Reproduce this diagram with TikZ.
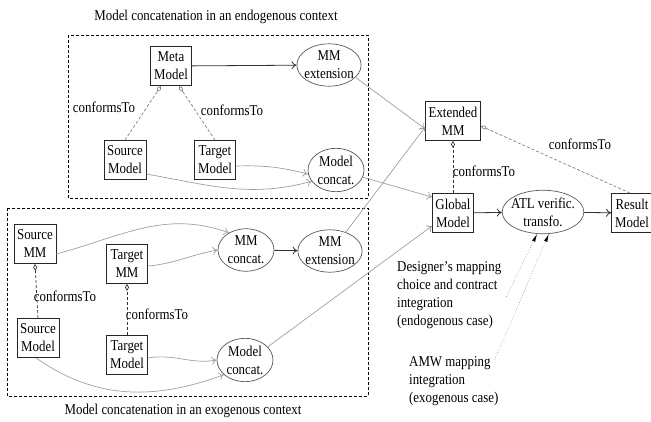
\documentclass[tikz,border=0pt]{standalone}
\usepackage{fontspec}
\setmainfont{Liberation Serif}[FakeStretch=0.86]
\usetikzlibrary{shapes.geometric,arrows.meta}

\begin{document}
\begin{tikzpicture}[x=1pt, y=-1pt,
  every node/.style={font=\fontsize{15}{18}\selectfont},
  box/.style={draw=black!85, line width=0.8pt, align=center, minimum width=41pt, minimum height=39pt, inner sep=3pt},
  ell/.style={ellipse, draw=gray!70!black, line width=0.7pt, align=center, inner xsep=-2pt, inner ysep=1pt},
  concat/.style={ell, minimum width=56pt, minimum height=42pt},
  frame/.style={line width=0.8pt, dash pattern=on 3pt off 2pt},
  link/.style={draw=gray!75, line width=0.7pt, -{To[length=5pt,width=8pt]}},
  blink/.style={draw=black!80, line width=0.8pt, -{To[length=5pt,width=8pt]}},
  conf/.style={dash pattern=on 3pt off 2pt, line width=0.7pt, -{Diamond[open,length=7pt,width=4pt]}},
  hint/.style={gray, line width=0.6pt, dotted, -{Latex[length=8pt,width=3.5pt,black]}}
]
\useasboundingbox (0,0) rectangle (651,421);

%frames
\draw[frame] (68,35) rectangle (368,198);
\draw[frame] (7,208) rectangle (368,396);
\node (endoT) at (216,17) {Model concatenation in an endogenous context};
\node (exoT) at (183,411) {Model concatenation in an exogenous context};

%nodes (endogenous)
\node (metaM)[box] at (171,66) {Meta\\Model};
\node (mmExtA)[ell] at (329,65) {MM\\extension};
\node (srcModA)[box] at (125,160) {Source\\Model};
\node (tgtModA)[box] at (215,160) {Target\\Model};
\node (modConA)[concat] at (336,170) {Model\\concat.};
\node (confA) at (104,107) {conformsTo};
\node (confB) at (232,110) {conformsTo};

%nodes (exogenous)
\node (srcMM)[box] at (35,244) {Source\\MM};
\node (tgtMM)[box] at (127,264) {Target\\MM};
\node (mmCon)[concat] at (246,250) {MM\\concat.};
\node (mmExtB)[ell] at (330,251) {MM\\extension};
\node (srcModB)[box] at (38,338) {Source\\Model};
\node (tgtModB)[box] at (127,355) {Target\\Model};
\node (modConB)[concat] at (245,360) {Model\\concat.};
\node (confC) at (65,296) {conformsTo};
\node (confD) at (157,314) {conformsTo};

%nodes (verification)
\node (extMM)[box, minimum width=53pt] at (453,121) {Extended\\MM};
\node (globM)[box] at (453,213) {Global\\Model};
\node (atl)[ell, inner xsep=-3pt] at (543,212) {ATL verific.\\transfo.};
\node (result)[box] at (632,213) {Result\\Model};
\node (confE) at (484,171) {conformsTo};
\node (confF) at (580,144) {conformsTo};
\node (designer)[align=left, anchor=north west, inner sep=0pt] at (397,261)
  {Designer{\char"27}s mapping\\choice and contract\\integration\\(endogenous case)};
\node (amw)[align=left, anchor=north west, inner sep=0pt] at (409,356)
  {AMW mapping\\integration\\(exogenous case)};

%links (endogenous)
\draw[blink] (metaM) -- (mmExtA);
\draw[conf, draw=gray] (srcModA.north) -- ([xshift=-10pt]metaM.south);
\draw[conf, draw=gray] (tgtModA.north) -- ([xshift=8pt]metaM.south);
\draw[link] ([yshift=-6pt]tgtModA.east) to[bend left=8] ([yshift=-4pt]modConA.west);
\draw[link] ([yshift=-14pt]srcModA.east) to[out=-10, in=195] (modConA.205);

%links (exogenous)
\draw[link] ([yshift=-10pt]srcMM.east) to[out=15, in=160] (mmCon.135);
\draw[link] ([yshift=-2pt]tgtMM.east) to[out=5, in=190] (mmCon.west);
\draw[blink] (mmCon) -- (mmExtB);
\draw[conf, draw=black!80] (srcModB.north) -- (srcMM.south);
\draw[conf, draw=black!80] (tgtModB.north) -- (tgtMM.south);
\draw[link] ([yshift=-3pt]tgtModB.east) to[out=10, in=190] (modConB.west);
\draw[link] ([xshift=-2pt]srcModB.south) to[out=-35, in=200] (modConB.215);

%links (verification)
\draw[link] (mmExtA.-25) -- ([yshift=-8pt]extMM.west);
\draw[link] (mmExtB.50) -- ([yshift=14pt]extMM.south west);
\draw[link] (modConA.-15) -- ([yshift=-4pt]globM.north west);
\draw[link] (modConB.30) -- ([yshift=7pt]globM.south west);
\draw[conf, draw=black!80] (globM.north) -- (extMM.south);
\draw[conf, draw=gray] ([xshift=-2pt]result.north) -- ([yshift=-5pt]extMM.east);
\draw[blink] (globM) -- (atl);
\draw[blink] (atl) -- (result);
\draw[hint] ([xshift=5pt,yshift=-2pt]designer.east) -- (atl.-105);
\draw[hint] ([xshift=-4pt,yshift=-4pt]amw.north east) -- (atl.-75);
\end{tikzpicture}
\end{document}
